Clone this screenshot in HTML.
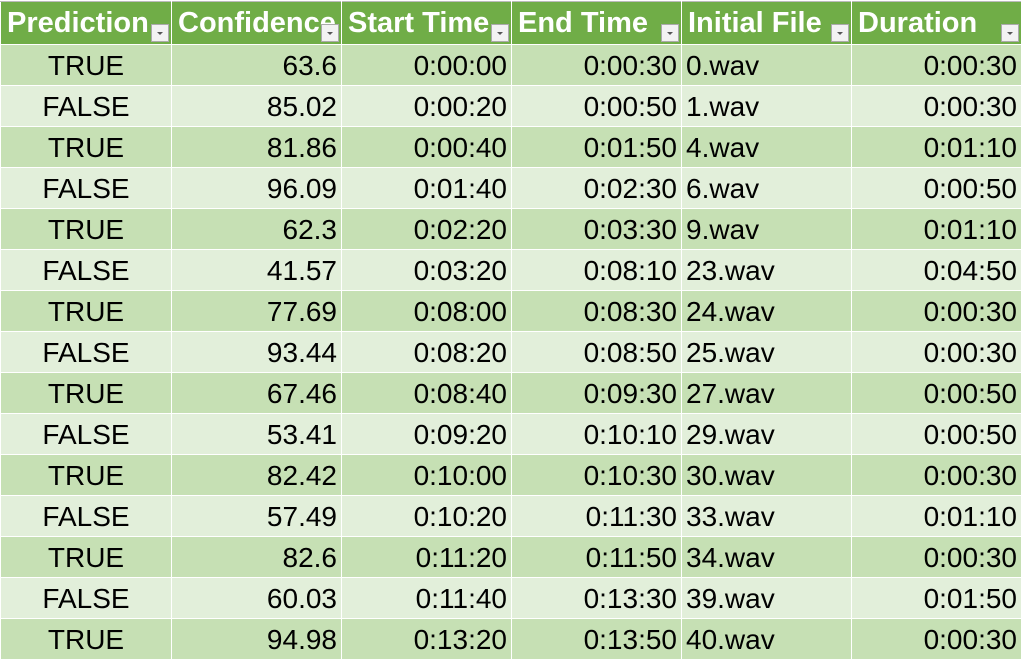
<!DOCTYPE html>
<html><head><meta charset="utf-8"><style>
html,body{margin:0;padding:0;background:#fff;width:1024px;height:656px;overflow:hidden}
table{border-collapse:collapse;position:absolute;left:0;top:1px;table-layout:fixed;font-family:"Liberation Sans",Calibri,sans-serif}
td,th{padding:0 4px;overflow:hidden;white-space:nowrap;border:1px solid #fff;height:41px;box-sizing:border-box}
th{background:#70AD47;color:#fff;font-weight:bold;font-size:29px;text-align:left;position:relative;height:43px;border-top:1px solid #bbb;padding-left:6px}
td{font-size:28px;color:#000;padding-top:2px}
tr.d td{background:#C6E0B4}
tr.l td{background:#E2EFDA}
.c{text-align:center}.r{text-align:right}.lft{text-align:left}
.dd{position:absolute;right:2px;bottom:2px;width:18px;height:18px;background:#f2f2f2;border:1px solid #aaa;box-sizing:border-box}
.dd:after{content:"";position:absolute;left:5px;top:7px;border-left:3px solid transparent;border-right:3px solid transparent;border-top:3px solid #555}
</style></head><body>
<table>
<colgroup><col style="width:171px"><col style="width:170px"><col style="width:170px"><col style="width:170px"><col style="width:170px"><col style="width:170px"></colgroup>
<thead><tr>
<th>Prediction<span class="dd"></span></th>
<th>Confidence<span class="dd"></span></th>
<th>Start Time<span class="dd"></span></th>
<th>End Time<span class="dd"></span></th>
<th>Initial File<span class="dd"></span></th>
<th>Duration<span class="dd"></span></th>
</tr></thead>
<tbody id="tb"></tbody></table>
<script>
const rows=[["TRUE","63.6","0:00:00","0:00:30","0.wav","0:00:30"],["FALSE","85.02","0:00:20","0:00:50","1.wav","0:00:30"],["TRUE","81.86","0:00:40","0:01:50","4.wav","0:01:10"],["FALSE","96.09","0:01:40","0:02:30","6.wav","0:00:50"],["TRUE","62.3","0:02:20","0:03:30","9.wav","0:01:10"],["FALSE","41.57","0:03:20","0:08:10","23.wav","0:04:50"],["TRUE","77.69","0:08:00","0:08:30","24.wav","0:00:30"],["FALSE","93.44","0:08:20","0:08:50","25.wav","0:00:30"],["TRUE","67.46","0:08:40","0:09:30","27.wav","0:00:50"],["FALSE","53.41","0:09:20","0:10:10","29.wav","0:00:50"],["TRUE","82.42","0:10:00","0:10:30","30.wav","0:00:30"],["FALSE","57.49","0:10:20","0:11:30","33.wav","0:01:10"],["TRUE","82.6","0:11:20","0:11:50","34.wav","0:00:30"],["FALSE","60.03","0:11:40","0:13:30","39.wav","0:01:50"],["TRUE","94.98","0:13:20","0:13:50","40.wav","0:00:30"]];
const cls=["c","r","r","r","lft","r"];
const names=["prediction-cell","confidence-cell","start-time-cell","end-time-cell","initial-file-cell","duration-cell"];
const tb=document.getElementById('tb');
rows.forEach((r,i)=>{const tr=document.createElement('tr');tr.className=i%2?'l':'d';


r.forEach((v,j)=>{const td=document.createElement('td');td.className=cls[j];td.textContent=v;


tr.appendChild(td);});tb.appendChild(tr);});
</script>
</body></html>
